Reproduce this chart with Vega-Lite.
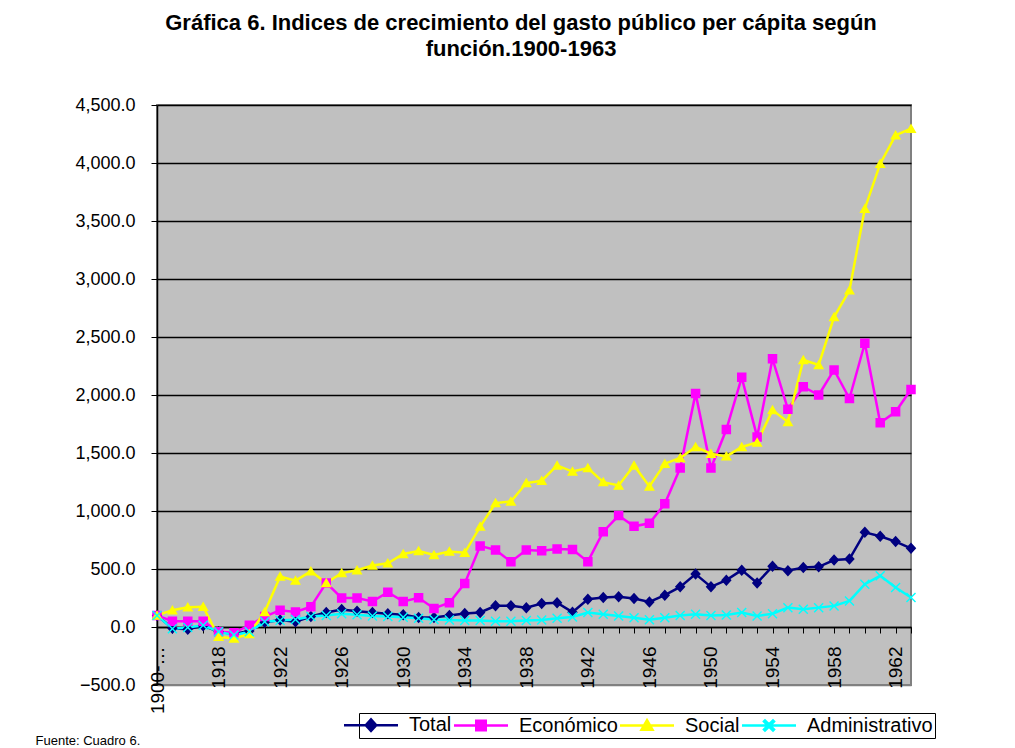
{
  "$schema": "https://vega.github.io/schema/vega-lite/v6.json",
  "width": 754,
  "height": 580,
  "autosize": "none",
  "padding": {"left": 157, "top": 105, "right": 104, "bottom": 63},
  "background": "white",
  "config": {
    "font": "Liberation Sans",
    "view": {"fill": "#C0C0C0", "stroke": "#808080", "strokeWidth": 2}
  },
  "title": {
    "text": ["Gráfica 6. Indices de crecimiento del gasto público per cápita según", "función.1900-1963"],
    "fontSize": 22,
    "fontWeight": "bold",
    "font": "Liberation Sans",
    "color": "black",
    "anchor": "middle",
    "offset": 35,
    "dx": -13,
    "lineHeight": 26
  },
  "data": {
    "values": [
      {"periodo": "1900-1914", "Total": 100, "Económico": 100, "Social": 100, "Administrativo": 100},
      {"periodo": "1915", "Total": -10, "Económico": 50, "Social": 145, "Administrativo": -15},
      {"periodo": "1916", "Total": -20, "Económico": 50, "Social": 170, "Administrativo": -5},
      {"periodo": "1917", "Total": 10, "Económico": 50, "Social": 175, "Administrativo": 15},
      {"periodo": "1918", "Total": -40, "Económico": -40, "Social": -85, "Administrativo": -40},
      {"periodo": "1919", "Total": -60, "Económico": -50, "Social": -100, "Administrativo": -70},
      {"periodo": "1920", "Total": -35, "Económico": 15, "Social": -60, "Administrativo": -40},
      {"periodo": "1921", "Total": 40, "Económico": 90, "Social": 130, "Administrativo": 45},
      {"periodo": "1922", "Total": 60, "Económico": 145, "Social": 435, "Administrativo": 55},
      {"periodo": "1923", "Total": 45, "Económico": 130, "Social": 400, "Administrativo": 65},
      {"periodo": "1924", "Total": 90, "Económico": 175, "Social": 480, "Administrativo": 90},
      {"periodo": "1925", "Total": 125, "Económico": 380, "Social": 380, "Administrativo": 100},
      {"periodo": "1926", "Total": 150, "Económico": 250, "Social": 465, "Administrativo": 115},
      {"periodo": "1927", "Total": 135, "Económico": 250, "Social": 490, "Administrativo": 105},
      {"periodo": "1928", "Total": 125, "Económico": 220, "Social": 530, "Administrativo": 95},
      {"periodo": "1929", "Total": 115, "Económico": 300, "Social": 550, "Administrativo": 90},
      {"periodo": "1930", "Total": 105, "Económico": 220, "Social": 630, "Administrativo": 85},
      {"periodo": "1931", "Total": 82, "Económico": 252, "Social": 655, "Administrativo": 75},
      {"periodo": "1932", "Total": 82, "Económico": 160, "Social": 620, "Administrativo": 65},
      {"periodo": "1933", "Total": 100, "Económico": 209, "Social": 650, "Administrativo": 60},
      {"periodo": "1934", "Total": 117, "Económico": 376, "Social": 640, "Administrativo": 55},
      {"periodo": "1935", "Total": 125, "Económico": 699, "Social": 866, "Administrativo": 55},
      {"periodo": "1936", "Total": 183, "Económico": 664, "Social": 1068, "Administrativo": 50},
      {"periodo": "1937", "Total": 183, "Económico": 563, "Social": 1082, "Administrativo": 50},
      {"periodo": "1938", "Total": 166, "Económico": 664, "Social": 1241, "Administrativo": 55},
      {"periodo": "1939", "Total": 203, "Económico": 658, "Social": 1261, "Administrativo": 60},
      {"periodo": "1940", "Total": 209, "Económico": 673, "Social": 1393, "Administrativo": 75},
      {"periodo": "1941", "Total": 128, "Económico": 668, "Social": 1340, "Administrativo": 87},
      {"periodo": "1942", "Total": 239, "Económico": 563, "Social": 1370, "Administrativo": 125},
      {"periodo": "1943", "Total": 254, "Económico": 822, "Social": 1249, "Administrativo": 110},
      {"periodo": "1944", "Total": 260, "Económico": 961, "Social": 1220, "Administrativo": 95},
      {"periodo": "1945", "Total": 245, "Económico": 868, "Social": 1393, "Administrativo": 80},
      {"periodo": "1946", "Total": 216, "Económico": 894, "Social": 1212, "Administrativo": 63},
      {"periodo": "1947", "Total": 274, "Económico": 1062, "Social": 1408, "Administrativo": 80},
      {"periodo": "1948", "Total": 346, "Económico": 1370, "Social": 1457, "Administrativo": 100},
      {"periodo": "1949", "Total": 456, "Económico": 2014, "Social": 1552, "Administrativo": 110},
      {"periodo": "1950", "Total": 346, "Económico": 1370, "Social": 1494, "Administrativo": 100},
      {"periodo": "1951", "Total": 404, "Económico": 1702, "Social": 1471, "Administrativo": 104},
      {"periodo": "1952", "Total": 490, "Económico": 2152, "Social": 1552, "Administrativo": 124},
      {"periodo": "1953", "Total": 380, "Económico": 1639, "Social": 1590, "Administrativo": 95},
      {"periodo": "1954", "Total": 523, "Económico": 2312, "Social": 1870, "Administrativo": 115},
      {"periodo": "1955", "Total": 485, "Económico": 1878, "Social": 1768, "Administrativo": 167},
      {"periodo": "1956", "Total": 514, "Económico": 2071, "Social": 2302, "Administrativo": 153},
      {"periodo": "1957", "Total": 519, "Económico": 2000, "Social": 2259, "Administrativo": 167},
      {"periodo": "1958", "Total": 577, "Económico": 2216, "Social": 2672, "Administrativo": 182},
      {"periodo": "1959", "Total": 586, "Económico": 1970, "Social": 2902, "Administrativo": 225},
      {"periodo": "1960", "Total": 816, "Económico": 2446, "Social": 3606, "Administrativo": 369},
      {"periodo": "1961", "Total": 782, "Económico": 1760, "Social": 3994, "Administrativo": 441},
      {"periodo": "1962", "Total": 736, "Económico": 1855, "Social": 4239, "Administrativo": 340},
      {"periodo": "1963", "Total": 678, "Económico": 2048, "Social": 4296, "Administrativo": 254}
    ]
  },
  "transform": [
    {"fold": ["Total", "Económico", "Social", "Administrativo"], "as": ["serie", "valor"]}
  ],
  "encoding": {
    "x": {
      "field": "periodo",
      "type": "ordinal",
      "sort": null,
      "scale": {"type": "point", "padding": 0},
      "axis": {
        "offset": -58,
        "labelAngle": -90,
        "labelFontSize": 19,
        "labelColor": "black",
        "labelLimit": 70,
        "labelPadding": 13,
        "labelExpr": "indexof(['1900-1914','1918','1922','1926','1930','1934','1938','1942','1946','1950','1954','1958','1962'], datum.value) >= 0 ? datum.label : ''",
        "tickColor": "black",
        "tickSize": 6,
        "domainColor": "black",
        "domainWidth": 1.5,
        "grid": false,
        "title": "Fuente: Cuadro 6.",
        "titleFontSize": 13,
        "titleFontWeight": "normal",
        "titleColor": "black",
        "titleAnchor": "start",
        "titleAlign": "left",
        "titleBaseline": "alphabetic",
        "titleX": -122,
        "titleY": 117
      }
    },
    "y": {
      "field": "valor",
      "type": "quantitative",
      "scale": {"domain": [-500, 4500], "nice": false, "zero": false},
      "axis": {
        "values": [-500, 0, 500, 1000, 1500, 2000, 2500, 3000, 3500, 4000, 4500],
        "format": ",.1f",
        "labelFontSize": 18,
        "labelColor": "black",
        "labelPadding": 16,
        "tickColor": "black",
        "tickSize": 6,
        "domainColor": "black",
        "domainWidth": 1.5,
        "gridColor": {"condition": {"test": "datum.value == -500", "value": "#808080"}, "value": "black"},
        "gridWidth": 1.5,
        "title": null
      }
    },
    "color": {
      "field": "serie",
      "type": "nominal",
      "scale": {
        "domain": ["Total", "Económico", "Social", "Administrativo"],
        "range": ["#000080", "#FF00FF", "#FFFF00", "#00FFFF"]
      },
      "legend": {
        "orient": "none",
        "legendX": 202,
        "legendY": 608,
        "direction": "horizontal",
        "title": null,
        "strokeColor": "black",
        "padding": 2,
        "labelFontSize": 20,
        "labelColor": "black",
        "labelOffset": 28,
        "columnPadding": -18,
        "symbolSize": 100,
        "encode": {
          "symbols": {
            "update": {
              "fill": {"scale": "color", "field": "value"},
              "stroke": {"scale": "color", "field": "value"},
              "strokeWidth": {"value": 2.5},
              "opacity": {"value": 1}
            }
          }
        }
      }
    }
  },
  "layer": [
    {
      "mark": {"type": "line", "strokeWidth": 2.5}
    },
    {
      "mark": {"type": "point", "filled": true, "size": 100, "opacity": 1, "strokeWidth": 0},
      "encoding": {
        "shape": {
          "field": "serie",
          "type": "nominal",
          "scale": {
            "domain": ["Total", "Económico", "Social", "Administrativo"],
            "range": [
              "M-8.4,0M-5.4,0H5.4M0,-1.15L1.05,0L0,1.15L-1.05,0Z",
              "M-8.4,0M-5.4,0H5.4M-0.95,-0.95H0.95V0.95H-0.95Z",
              "M-8.4,0M-5.4,0H5.4M0,-1.05L1.1,0.85H-1.1Z",
              "M-8.4,0M-5.4,0H5.4M-1,-0.8L-0.8,-1L0,-0.2L0.8,-1L1,-0.8L0.2,0L1,0.8L0.8,1L0,0.2L-0.8,1L-1,0.8L-0.2,0Z"
            ]
          },
          "legend": {
            "orient": "none",
            "legendX": 202,
            "legendY": 608,
            "direction": "horizontal",
            "title": null,
            "strokeColor": "black",
            "padding": 2,
            "labelFontSize": 20,
            "labelColor": "black",
            "labelOffset": 28,
            "columnPadding": -18,
            "symbolSize": 100,
            "encode": {
              "symbols": {
                "update": {
                  "fill": {"scale": "color", "field": "value"},
                  "stroke": {"scale": "color", "field": "value"},
                  "strokeWidth": {"value": 2.5},
                  "opacity": {"value": 1}
                }
              }
            }
          }
        }
      }
    }
  ]
}
